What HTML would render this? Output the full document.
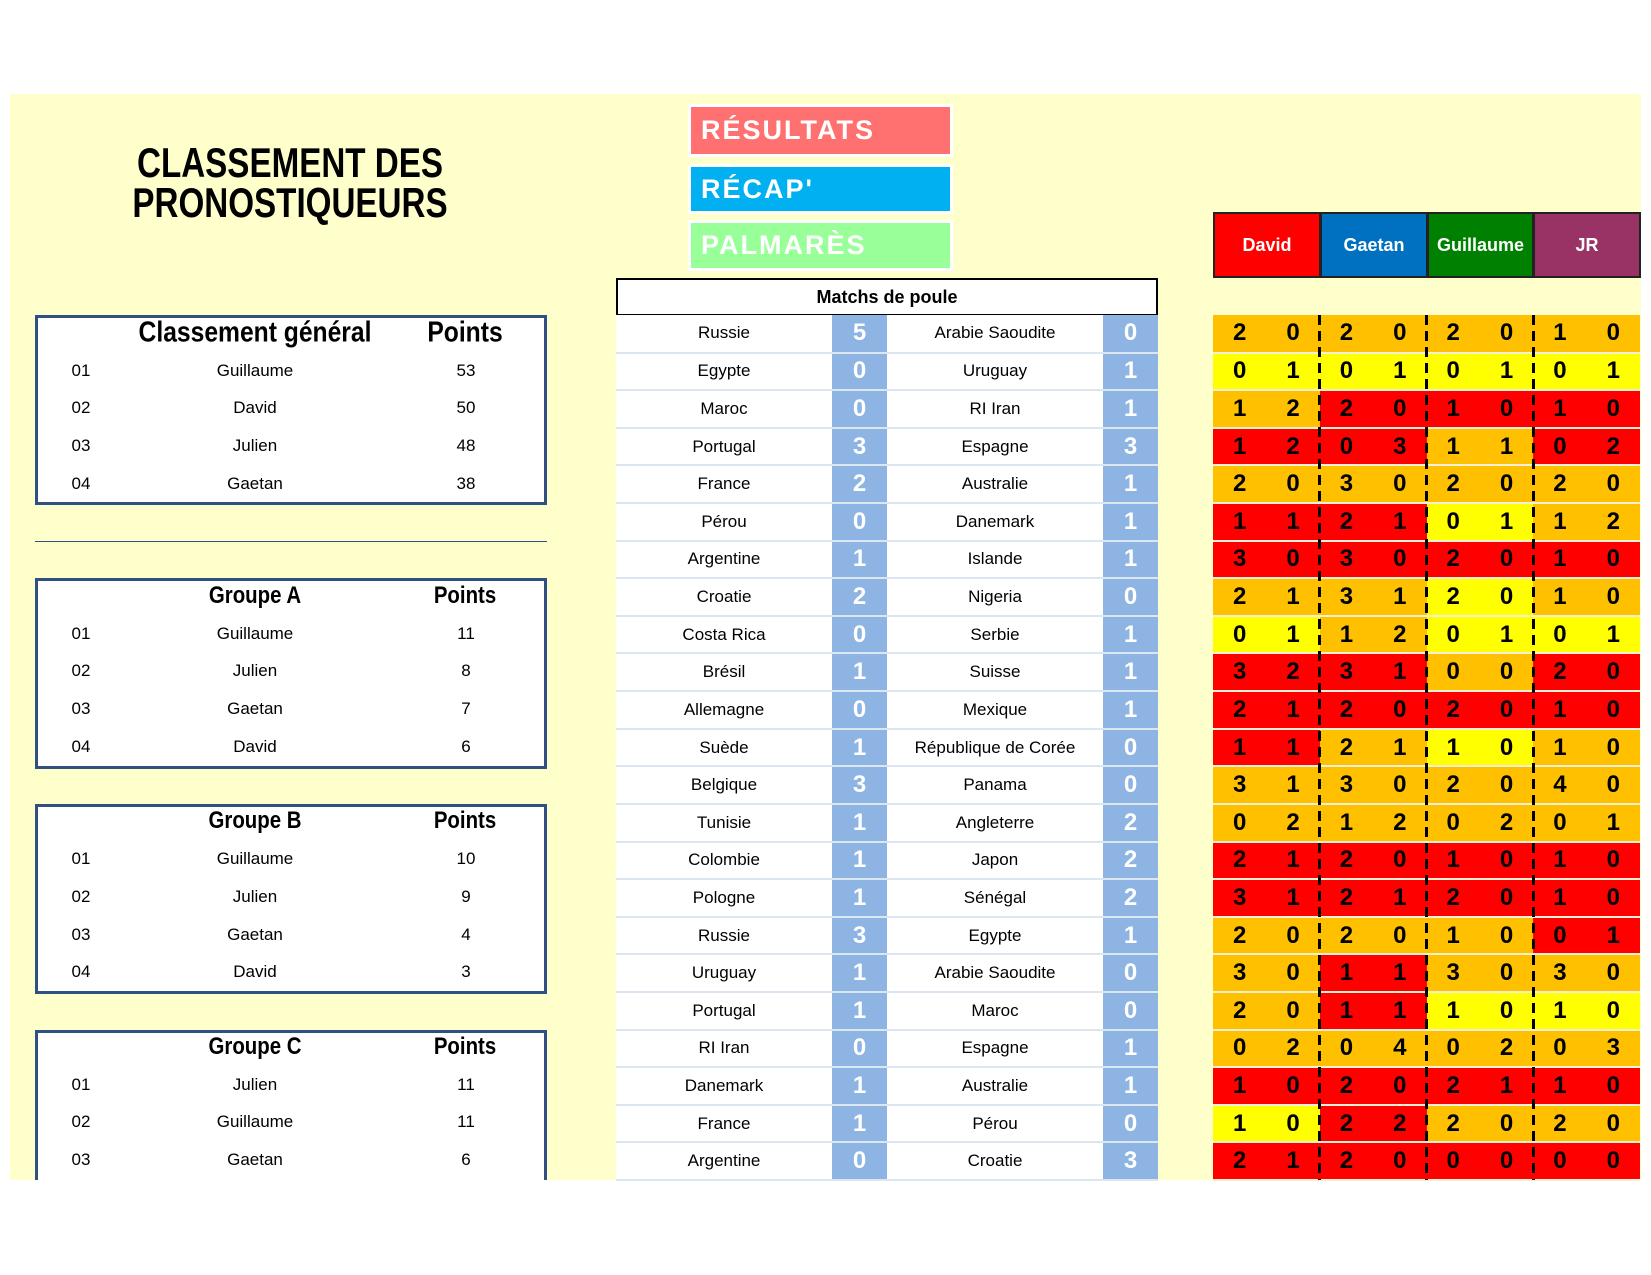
<!DOCTYPE html>
<html><head><meta charset="utf-8"><style>
*{margin:0;padding:0;box-sizing:border-box}
body{width:1651px;height:1275px;background:#fff;position:relative;overflow:hidden;font-family:"Liberation Sans",sans-serif}
.bg{position:absolute;left:10px;top:94px;width:1631px;height:1086px;background:#FFFFCC}
.title{position:absolute;left:90px;width:400px;text-align:center;font-weight:bold;font-size:42px;color:#000;transform:scaleX(0.79);line-height:42px}
.btn{position:absolute;left:688px;width:265px;border:3px solid #fff;color:#fff;font-weight:bold;font-size:27px;letter-spacing:2px;padding-left:10px;display:flex;align-items:center}
.box{position:absolute;left:35px;width:512px;background:#fff;border:3px solid #2F5082;border-bottom-width:3px}
.r{position:absolute;font-size:17px;transform:translate(-50%,-50%);white-space:nowrap}
.h{position:absolute;font-weight:bold;transform:translate(-50%,-50%) scaleX(0.85);white-space:nowrap}
table{border-collapse:collapse;position:absolute;table-layout:fixed}
#m{left:616px;top:315px;width:542px}
#m td{height:37.62px;text-align:center;border-bottom:2px solid #DCE6F1;font-size:17px;background:#fff;padding:0}
#m td.s{background:#8DB4E2;color:#fff;font-weight:bold;font-size:24px;border-bottom:2px solid #DCE6F1}
#g{left:1213px;top:315px;width:427px}
#g td{height:37.62px;text-align:center;font-weight:bold;font-size:24px;border-bottom:2px solid #f3f0d8;padding:0}
.O{background:#FFC000}.Y{background:#FFFF00}.R{background:#FF0000}
.hd{position:absolute;top:212px;height:66px;color:#fff;font-weight:bold;font-size:18px;display:flex;align-items:center;justify-content:center;border:2px solid #222}
.dl{position:absolute;top:315px;width:3px;height:865px;background:repeating-linear-gradient(to bottom,#000 0 10px,transparent 10px 16px)}
</style></head><body>
<div class="bg"></div>
<div class="title" style="top:142px">CLASSEMENT DES</div>
<div class="title" style="top:182px">PRONOSTIQUEURS</div>
<div class="btn" style="top:104px;height:53px;background:#FF7171">RÉSULTATS</div>
<div class="btn" style="top:164px;height:50px;background:#00B0F0">RÉCAP'</div>
<div class="btn" style="top:220px;height:51px;background:#99FF99">PALMARÈS</div>

<div style="position:absolute;left:616px;top:278px;width:542px;height:38px;border:2px solid #000;background:#fff;font-weight:bold;font-size:18px;display:flex;align-items:center;justify-content:center">Matchs de poule</div>

<div class="hd" style="left:1213px;width:108px;background:#FF0000">David</div>
<div class="hd" style="left:1320px;width:108px;background:#0070C0">Gaetan</div>
<div class="hd" style="left:1427px;width:107px;background:#008000">Guillaume</div>
<div class="hd" style="left:1533px;width:108px;background:#993366">JR</div>

<div class="box" style="top:315px;height:190px"></div>
<div class="h" style="left:255px;top:333px;font-size:29px">Classement général</div>
<div class="h" style="left:465px;top:333px;font-size:29px">Points</div>
<div class="r" style="left:81px;top:371px">01</div><div class="r" style="left:255px;top:371px">Guillaume</div><div class="r" style="left:466px;top:371px">53</div>
<div class="r" style="left:81px;top:408px">02</div><div class="r" style="left:255px;top:408px">David</div><div class="r" style="left:466px;top:408px">50</div>
<div class="r" style="left:81px;top:446px">03</div><div class="r" style="left:255px;top:446px">Julien</div><div class="r" style="left:466px;top:446px">48</div>
<div class="r" style="left:81px;top:484px">04</div><div class="r" style="left:255px;top:484px">Gaetan</div><div class="r" style="left:466px;top:484px">38</div>

<div style="position:absolute;left:35px;top:541px;width:512px;height:1px;background:#2F5082"></div>

<div class="box" style="top:578px;height:191px"></div>
<div class="h" style="left:255px;top:596px;font-size:24px">Groupe A</div>
<div class="h" style="left:465px;top:596px;font-size:24px">Points</div>
<div class="r" style="left:81px;top:634px">01</div><div class="r" style="left:255px;top:634px">Guillaume</div><div class="r" style="left:466px;top:634px">11</div>
<div class="r" style="left:81px;top:671px">02</div><div class="r" style="left:255px;top:671px">Julien</div><div class="r" style="left:466px;top:671px">8</div>
<div class="r" style="left:81px;top:709px">03</div><div class="r" style="left:255px;top:709px">Gaetan</div><div class="r" style="left:466px;top:709px">7</div>
<div class="r" style="left:81px;top:747px">04</div><div class="r" style="left:255px;top:747px">David</div><div class="r" style="left:466px;top:747px">6</div>

<div class="box" style="top:804px;height:190px"></div>
<div class="h" style="left:255px;top:821px;font-size:24px">Groupe B</div>
<div class="h" style="left:465px;top:821px;font-size:24px">Points</div>
<div class="r" style="left:81px;top:859px">01</div><div class="r" style="left:255px;top:859px">Guillaume</div><div class="r" style="left:466px;top:859px">10</div>
<div class="r" style="left:81px;top:897px">02</div><div class="r" style="left:255px;top:897px">Julien</div><div class="r" style="left:466px;top:897px">9</div>
<div class="r" style="left:81px;top:935px">03</div><div class="r" style="left:255px;top:935px">Gaetan</div><div class="r" style="left:466px;top:935px">4</div>
<div class="r" style="left:81px;top:972px">04</div><div class="r" style="left:255px;top:972px">David</div><div class="r" style="left:466px;top:972px">3</div>

<div class="box" style="top:1030px;height:155px;border-bottom:none"></div>
<div class="h" style="left:255px;top:1047px;font-size:24px">Groupe C</div>
<div class="h" style="left:465px;top:1047px;font-size:24px">Points</div>
<div class="r" style="left:81px;top:1085px">01</div><div class="r" style="left:255px;top:1085px">Julien</div><div class="r" style="left:466px;top:1085px">11</div>
<div class="r" style="left:81px;top:1122px">02</div><div class="r" style="left:255px;top:1122px">Guillaume</div><div class="r" style="left:466px;top:1122px">11</div>
<div class="r" style="left:81px;top:1160px">03</div><div class="r" style="left:255px;top:1160px">Gaetan</div><div class="r" style="left:466px;top:1160px">6</div>
<div style="position:absolute;left:0;top:1180px;width:1651px;height:95px;background:#fff"></div>

<table id="m">
<colgroup><col style="width:216px"><col style="width:55px"><col style="width:216px"><col style="width:55px"></colgroup>
<tr><td>Russie</td><td class="s">5</td><td>Arabie Saoudite</td><td class="s">0</td></tr>
<tr><td>Egypte</td><td class="s">0</td><td>Uruguay</td><td class="s">1</td></tr>
<tr><td>Maroc</td><td class="s">0</td><td>RI Iran</td><td class="s">1</td></tr>
<tr><td>Portugal</td><td class="s">3</td><td>Espagne</td><td class="s">3</td></tr>
<tr><td>France</td><td class="s">2</td><td>Australie</td><td class="s">1</td></tr>
<tr><td>Pérou</td><td class="s">0</td><td>Danemark</td><td class="s">1</td></tr>
<tr><td>Argentine</td><td class="s">1</td><td>Islande</td><td class="s">1</td></tr>
<tr><td>Croatie</td><td class="s">2</td><td>Nigeria</td><td class="s">0</td></tr>
<tr><td>Costa Rica</td><td class="s">0</td><td>Serbie</td><td class="s">1</td></tr>
<tr><td>Brésil</td><td class="s">1</td><td>Suisse</td><td class="s">1</td></tr>
<tr><td>Allemagne</td><td class="s">0</td><td>Mexique</td><td class="s">1</td></tr>
<tr><td>Suède</td><td class="s">1</td><td>République de Corée</td><td class="s">0</td></tr>
<tr><td>Belgique</td><td class="s">3</td><td>Panama</td><td class="s">0</td></tr>
<tr><td>Tunisie</td><td class="s">1</td><td>Angleterre</td><td class="s">2</td></tr>
<tr><td>Colombie</td><td class="s">1</td><td>Japon</td><td class="s">2</td></tr>
<tr><td>Pologne</td><td class="s">1</td><td>Sénégal</td><td class="s">2</td></tr>
<tr><td>Russie</td><td class="s">3</td><td>Egypte</td><td class="s">1</td></tr>
<tr><td>Uruguay</td><td class="s">1</td><td>Arabie Saoudite</td><td class="s">0</td></tr>
<tr><td>Portugal</td><td class="s">1</td><td>Maroc</td><td class="s">0</td></tr>
<tr><td>RI Iran</td><td class="s">0</td><td>Espagne</td><td class="s">1</td></tr>
<tr><td>Danemark</td><td class="s">1</td><td>Australie</td><td class="s">1</td></tr>
<tr><td>France</td><td class="s">1</td><td>Pérou</td><td class="s">0</td></tr>
<tr><td>Argentine</td><td class="s">0</td><td>Croatie</td><td class="s">3</td></tr>
</table>

<table id="g">
<tr><td class="O">2</td><td class="O">0</td><td class="O">2</td><td class="O">0</td><td class="O">2</td><td class="O">0</td><td class="O">1</td><td class="O">0</td></tr>
<tr><td class="Y">0</td><td class="Y">1</td><td class="Y">0</td><td class="Y">1</td><td class="Y">0</td><td class="Y">1</td><td class="Y">0</td><td class="Y">1</td></tr>
<tr><td class="O">1</td><td class="O">2</td><td class="R">2</td><td class="R">0</td><td class="R">1</td><td class="R">0</td><td class="R">1</td><td class="R">0</td></tr>
<tr><td class="R">1</td><td class="R">2</td><td class="R">0</td><td class="R">3</td><td class="O">1</td><td class="O">1</td><td class="R">0</td><td class="R">2</td></tr>
<tr><td class="O">2</td><td class="O">0</td><td class="O">3</td><td class="O">0</td><td class="O">2</td><td class="O">0</td><td class="O">2</td><td class="O">0</td></tr>
<tr><td class="R">1</td><td class="R">1</td><td class="R">2</td><td class="R">1</td><td class="Y">0</td><td class="Y">1</td><td class="O">1</td><td class="O">2</td></tr>
<tr><td class="R">3</td><td class="R">0</td><td class="R">3</td><td class="R">0</td><td class="R">2</td><td class="R">0</td><td class="R">1</td><td class="R">0</td></tr>
<tr><td class="O">2</td><td class="O">1</td><td class="O">3</td><td class="O">1</td><td class="Y">2</td><td class="Y">0</td><td class="O">1</td><td class="O">0</td></tr>
<tr><td class="Y">0</td><td class="Y">1</td><td class="O">1</td><td class="O">2</td><td class="Y">0</td><td class="Y">1</td><td class="Y">0</td><td class="Y">1</td></tr>
<tr><td class="R">3</td><td class="R">2</td><td class="R">3</td><td class="R">1</td><td class="O">0</td><td class="O">0</td><td class="R">2</td><td class="R">0</td></tr>
<tr><td class="R">2</td><td class="R">1</td><td class="R">2</td><td class="R">0</td><td class="R">2</td><td class="R">0</td><td class="R">1</td><td class="R">0</td></tr>
<tr><td class="R">1</td><td class="R">1</td><td class="O">2</td><td class="O">1</td><td class="Y">1</td><td class="Y">0</td><td class="O">1</td><td class="O">0</td></tr>
<tr><td class="O">3</td><td class="O">1</td><td class="O">3</td><td class="O">0</td><td class="O">2</td><td class="O">0</td><td class="O">4</td><td class="O">0</td></tr>
<tr><td class="O">0</td><td class="O">2</td><td class="O">1</td><td class="O">2</td><td class="O">0</td><td class="O">2</td><td class="O">0</td><td class="O">1</td></tr>
<tr><td class="R">2</td><td class="R">1</td><td class="R">2</td><td class="R">0</td><td class="R">1</td><td class="R">0</td><td class="R">1</td><td class="R">0</td></tr>
<tr><td class="R">3</td><td class="R">1</td><td class="R">2</td><td class="R">1</td><td class="R">2</td><td class="R">0</td><td class="R">1</td><td class="R">0</td></tr>
<tr><td class="O">2</td><td class="O">0</td><td class="O">2</td><td class="O">0</td><td class="O">1</td><td class="O">0</td><td class="R">0</td><td class="R">1</td></tr>
<tr><td class="O">3</td><td class="O">0</td><td class="R">1</td><td class="R">1</td><td class="O">3</td><td class="O">0</td><td class="O">3</td><td class="O">0</td></tr>
<tr><td class="O">2</td><td class="O">0</td><td class="R">1</td><td class="R">1</td><td class="Y">1</td><td class="Y">0</td><td class="Y">1</td><td class="Y">0</td></tr>
<tr><td class="O">0</td><td class="O">2</td><td class="O">0</td><td class="O">4</td><td class="O">0</td><td class="O">2</td><td class="O">0</td><td class="O">3</td></tr>
<tr><td class="R">1</td><td class="R">0</td><td class="R">2</td><td class="R">0</td><td class="R">2</td><td class="R">1</td><td class="R">1</td><td class="R">0</td></tr>
<tr><td class="Y">1</td><td class="Y">0</td><td class="R">2</td><td class="R">2</td><td class="O">2</td><td class="O">0</td><td class="O">2</td><td class="O">0</td></tr>
<tr><td class="R">2</td><td class="R">1</td><td class="R">2</td><td class="R">0</td><td class="R">0</td><td class="R">0</td><td class="R">0</td><td class="R">0</td></tr>
</table>
<div class="dl" style="left:1318px"></div>
<div class="dl" style="left:1425px"></div>
<div class="dl" style="left:1532px"></div>
</body></html>
